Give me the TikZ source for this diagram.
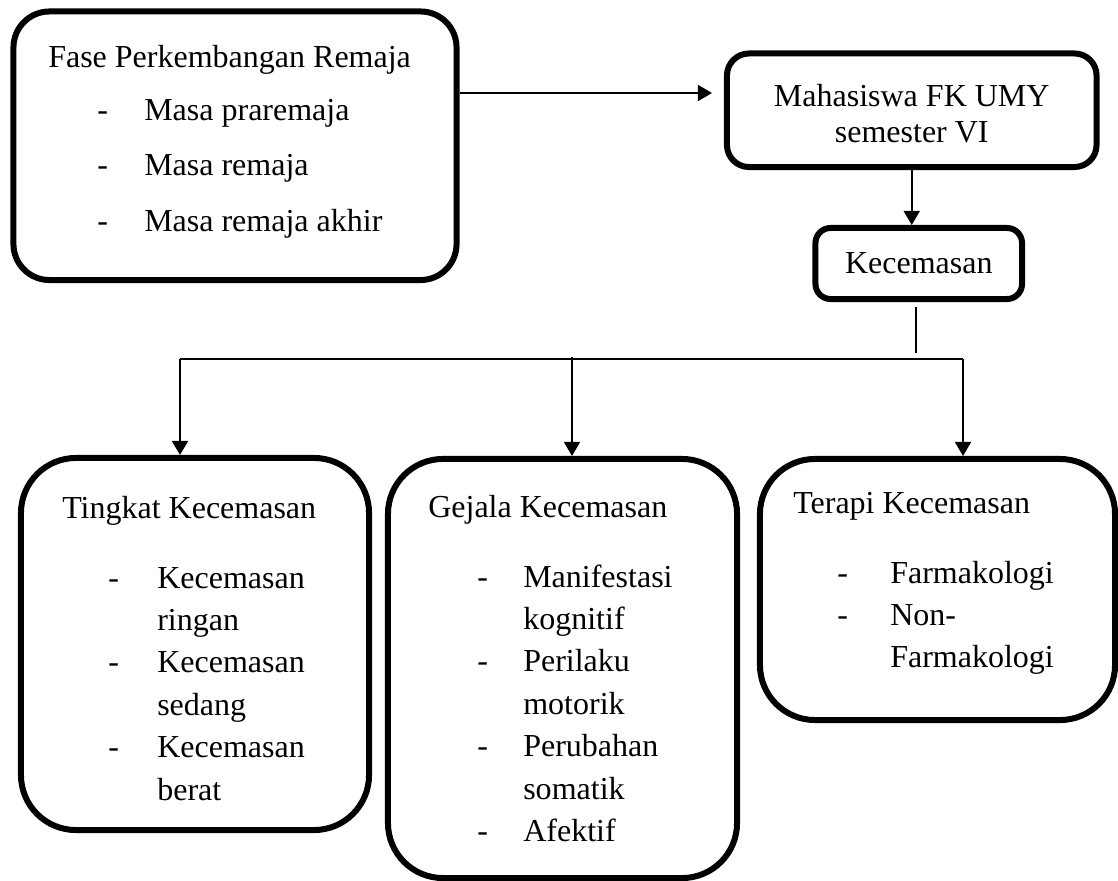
\documentclass[tikz,border=0pt]{standalone}
\usepackage{fontspec}
\setmainfont{Liberation Serif}
\usetikzlibrary{arrows.meta, positioning}

\begin{document}
\begin{tikzpicture}[x=0.025cm, y=-0.025cm,
      rbox/.style={draw, line width=0.15cm, rounded corners=#1, inner sep=0pt,
        font=\fontsize{22.76}{25.6}\selectfont},
      txt/.style={anchor=base west, inner sep=0pt, font=\fontsize{22.76}{30.2}\selectfont},
      line/.style={line width=0.045cm},
      arr/.style={line width=0.045cm, -{Triangle[length=0.35cm, width=0.4cm]}}]
    \useasboundingbox (0,0) rectangle (1118,881);
    % boxes
    \node[rbox=0.9cm, minimum width=11.075cm, minimum height=6.7125cm] (fase) at (235,145.75) {};
    \node[rbox=0.55cm, minimum width=9.2375cm, minimum height=2.8375cm, align=center]
      (mhs) at (911.75,110.25) {\rule{0pt}{0.725cm}Mahasiswa FK UMY\\semester VI};
    \node[rbox=0.375cm, minimum width=5.1625cm, minimum height=1.775cm] (kec) at (918.75,263.5) {Kecemasan};
    \node[rbox=1.375cm, minimum width=8.7cm, minimum height=9.3cm] (ting) at (195,644) {};
    \node[rbox=1.375cm, minimum width=8.725cm, minimum height=10.475cm] (gej) at (562.5,668.5) {};
    \node[rbox=1.375cm, minimum width=8.875cm, minimum height=6.525cm] (ter) at (937.5,589.5) {};

    % texts in the big boxes
    \node[txt] (fase-t) at (48,67) {Fase Perkembangan Remaja};
    \node[txt, font=\fontsize{22.76}{39.8}\selectfont] (fase-l) at (97,120)
      {\begin{tabular}[t]{@{}p{1.175cm}@{}l@{}}
        - & Masa praremaja\\ - & Masa remaja\\ - & Masa remaja akhir
      \end{tabular}};
    \node[txt] (ting-t) at (62,518) {Tingkat Kecemasan};
    \node[txt] (ting-l) at (108,588)
      {\begin{tabular}[t]{@{}p{1.225cm}@{}l@{}}
        - & Kecemasan\\ & ringan\\ - & Kecemasan\\ & sedang\\ - & Kecemasan\\ & berat
      \end{tabular}};
    \node[txt] (gej-t) at (428,517) {Gejala Kecemasan};
    \node[txt] (gej-l) at (477,587)
      {\begin{tabular}[t]{@{}p{1.15cm}@{}l@{}}
        - & Manifestasi\\ & kognitif\\ - & Perilaku\\ & motorik\\ - & Perubahan\\ & somatik\\ - & Afektif
      \end{tabular}};
    \node[txt] (ter-t) at (793,513) {Terapi Kecemasan};
    \node[txt] (ter-l) at (837,583)
      {\begin{tabular}[t]{@{}p{1.325cm}@{}l@{}}
        - & Farmakologi\\ - & Non-\\ & Farmakologi
      \end{tabular}};

    % connectors
    \draw[arr, shorten >=0.3cm] (fase.east |- 0,93) -- (mhs.west |- 0,93);
    \draw[arr] (mhs.south) -- (mhs.south |- kec.north);
    \coordinate (split) at (916,353);
    \coordinate (bl) at (180,359);
    \coordinate (bm) at (572,357);
    \coordinate (br) at (963,359);
    \draw[line] ([yshift=-0.125cm]kec.south -| split) -- (split);
    \draw[line] (bl) -- (br);
    \draw[arr] (bl) -- (bl |- ting.north);
    \draw[arr] (bm) -- (bm |- gej.north);
    \draw[arr] (br) -- (br |- ter.north);
\end{tikzpicture}
\end{document}
